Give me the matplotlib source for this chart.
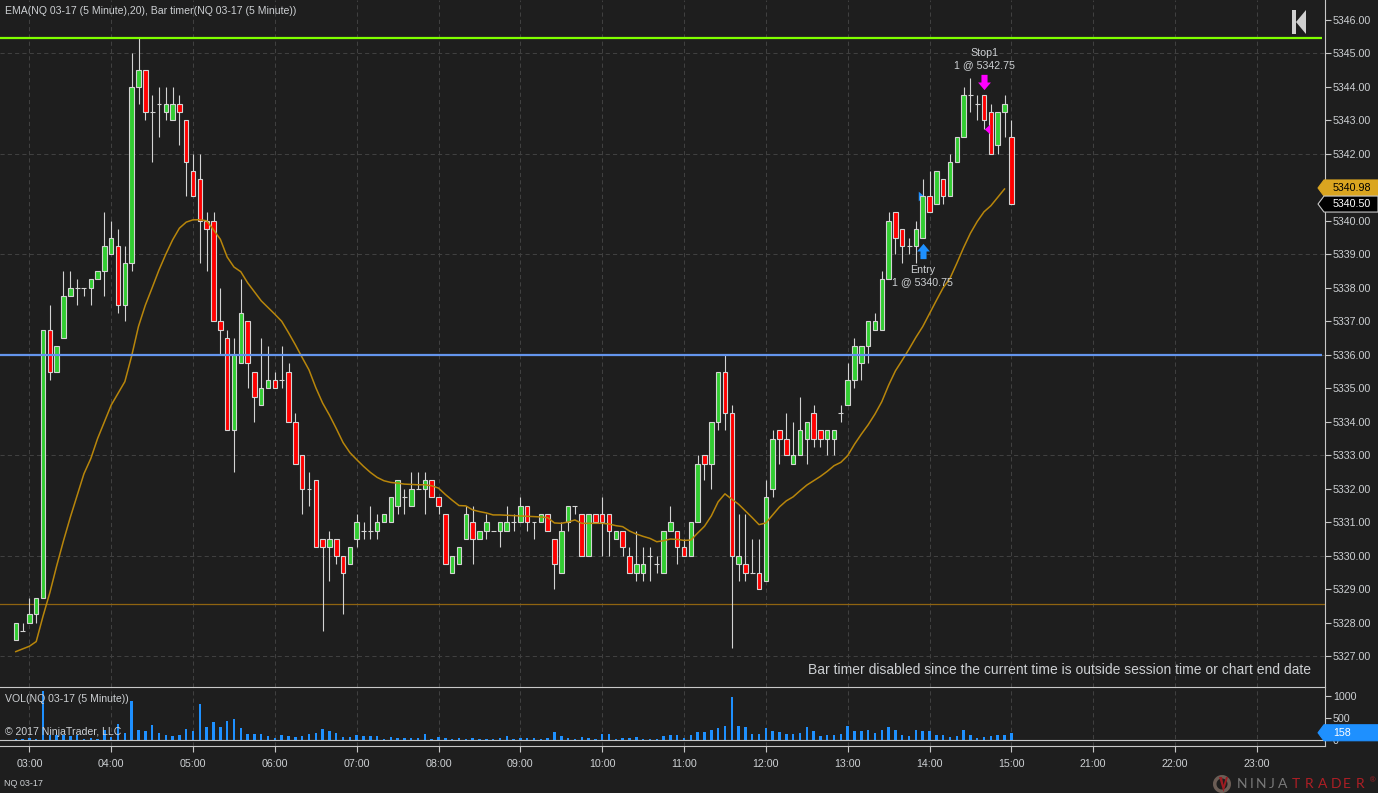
import numpy as np
import matplotlib
matplotlib.use("Agg")
import matplotlib.pyplot as plt
from matplotlib.patches import Circle, Polygon, Rectangle, Wedge
from matplotlib.path import Path
from matplotlib.transforms import Affine2D

W, H = 1378, 793

# first bar is two bars before 03:00
opens = [
    5327.5, 5327.75, 5328, 5328.25, 5328.75, 5336.75, 5335.5, 5336.5, 5337.75, 5338,
    5338, 5338, 5338.25, 5338.5, 5339, 5339.25, 5337.5, 5338.75, 5344, 5344.5,
    5343.25, 5343.5, 5343.25, 5343, 5343.5, 5343, 5341.5, 5341.25, 5340, 5340,
    5337, 5336.5, 5333.75, 5335.75, 5337, 5335.5, 5334.5, 5335, 5335.25, 5335.25,
    5335.5, 5334, 5333, 5332, 5332.25, 5330.5, 5330.25, 5330.5, 5330, 5329.75,
    5330.5, 5330.75, 5330.75, 5330.75, 5331, 5331, 5331.5, 5331.75, 5331.5, 5332,
    5332, 5332.25, 5331.75, 5331.25, 5329.5, 5329.75, 5330.5, 5331, 5330.5, 5330.75,
    5330.75, 5330.75, 5330.75, 5331, 5331, 5331.5, 5331, 5331, 5331.25, 5330.5,
    5329.5, 5331, 5331.5, 5331.25, 5330, 5331.25, 5331.25, 5331.25, 5330.5, 5330.75,
    5330, 5329.5, 5329.5, 5330, 5329.75, 5329.5, 5330.75, 5330.75, 5330.25, 5330,
    5331, 5333, 5332.75, 5334, 5335.5, 5334.25, 5329.75, 5329.75, 5329.5, 5329.5,
    5329.25, 5332, 5333.75, 5333.5, 5332.75, 5333, 5333.5, 5334.25, 5333.75, 5333.5,
    5333.5, 5334.25, 5334.5, 5335.25, 5335.75, 5336.25, 5336.75, 5336.75, 5338.25, 5340.25,
    5339.75, 5339.25, 5339.25, 5339.5, 5340.75, 5340.5, 5341.25, 5340.75, 5341.75, 5342.5,
    5343.75, 5343.5, 5343.75, 5343.25, 5342.25, 5343.25, 5342.5,
]
closes = [
    5328, 5327.75, 5328.25, 5328.75, 5336.75, 5335.5, 5336.25, 5337.75, 5338, 5338,
    5338, 5338.25, 5338.5, 5339.25, 5339.5, 5337.5, 5338.75, 5344, 5344.5, 5343.25,
    5343.25, 5343.5, 5343.5, 5343.5, 5343.25, 5341.75, 5340.75, 5340, 5339.75, 5337,
    5336.75, 5333.75, 5336, 5337.25, 5335.75, 5334.75, 5335, 5335.25, 5335, 5335.25,
    5334, 5332.75, 5332, 5332, 5330.25, 5330.25, 5330.5, 5330, 5329.5, 5330.25,
    5331, 5330.75, 5330.75, 5331, 5331.25, 5331.75, 5332.25, 5331.75, 5332, 5332,
    5332.25, 5331.75, 5331.5, 5329.75, 5330, 5330.25, 5331.25, 5330.5, 5330.75, 5331,
    5330.75, 5331, 5331, 5331, 5331.5, 5331, 5331, 5331.25, 5330.75, 5329.75,
    5330.75, 5331.5, 5331.5, 5330, 5331.25, 5331, 5331, 5330.75, 5330.75, 5330.25,
    5329.5, 5329.75, 5329.75, 5330, 5329.75, 5330.75, 5331, 5330.25, 5330, 5331,
    5332.75, 5332.75, 5334, 5335.5, 5334.25, 5330, 5330, 5329.5, 5329.5, 5329,
    5331.75, 5333.5, 5333.5, 5333, 5333, 5333.75, 5334, 5333.5, 5333.5, 5333.75,
    5333.75, 5334.25, 5335.25, 5336.25, 5336.25, 5337, 5337, 5338.25, 5340, 5339.5,
    5339.25, 5339.25, 5339.75, 5340.75, 5340.25, 5341.5, 5340.75, 5341.75, 5342.5, 5343.75,
    5343.75, 5343.5, 5343, 5342, 5343.25, 5343.5, 5340.5,
]
highs = [
    5328, 5328, 5328.75, 5328.75, 5336.75, 5337.5, 5336.25, 5338.5, 5338.5, 5338.25,
    5338, 5338.25, 5338.5, 5340.25, 5340, 5339.75, 5339.25, 5345, 5345.45, 5344.5,
    5343.75, 5344, 5344, 5344, 5343.75, 5343, 5342, 5342, 5340.25, 5340.25,
    5338, 5336.75, 5336.5, 5338.25, 5337, 5335.5, 5336.5, 5336.25, 5335.5, 5336.25,
    5335.75, 5334.25, 5333, 5332.5, 5332.25, 5330.5, 5330.75, 5330.5, 5330, 5330.25,
    5331.25, 5331, 5331.5, 5331.25, 5331.25, 5331.75, 5332.25, 5332, 5332.5, 5332.5,
    5332.5, 5332.25, 5331.75, 5331.25, 5330, 5330.25, 5331.5, 5331.5, 5330.75, 5331.25,
    5330.75, 5331, 5331.5, 5331.25, 5331.75, 5331.5, 5331, 5331.25, 5331.25, 5330.5,
    5331, 5331.5, 5331.5, 5331.25, 5331.25, 5331.25, 5331.75, 5331.25, 5330.75, 5330.75,
    5330.25, 5330.75, 5330.25, 5330.25, 5330, 5330.75, 5331.5, 5330.75, 5330.5, 5331,
    5333, 5333, 5334, 5335.5, 5336, 5334.5, 5331.25, 5331.25, 5330.5, 5330.5,
    5332.25, 5333.75, 5333.75, 5334.25, 5334, 5334.75, 5334, 5334.5, 5333.75, 5333.75,
    5333.75, 5334.5, 5335.75, 5336.5, 5336.25, 5337, 5337.25, 5338.5, 5340.25, 5340.25,
    5339.75, 5339.5, 5340, 5341.25, 5341.5, 5341.5, 5341.25, 5342, 5342.5, 5344,
    5344.25, 5343.75, 5343.75, 5343.5, 5343.25, 5343.75, 5343,
]
lows = [
    5327.5, 5327.75, 5328, 5328, 5328.75, 5335.25, 5335.5, 5336.5, 5337.75, 5337.5,
    5337.75, 5337.5, 5338.25, 5337.75, 5339, 5337.25, 5337, 5338.5, 5343.5, 5343,
    5341.75, 5342.5, 5343, 5343, 5342.25, 5340.75, 5340.75, 5338.75, 5338.5, 5337,
    5336, 5333.75, 5332.5, 5335.75, 5335, 5334, 5334.5, 5335, 5335, 5335,
    5334, 5332.75, 5331.25, 5331.5, 5330.25, 5327.75, 5329.25, 5329.75, 5328.25, 5329.75,
    5330.25, 5330.5, 5330.5, 5330.5, 5331, 5331, 5331.25, 5331.25, 5331.5, 5332,
    5331.25, 5331.75, 5331.25, 5329.75, 5329.5, 5329.75, 5330.5, 5329.75, 5330.5, 5330.5,
    5330.75, 5330.25, 5330.75, 5330.75, 5331, 5330.75, 5330.5, 5331, 5330.75, 5329,
    5329.5, 5330.75, 5331.25, 5330, 5330, 5331, 5330, 5330, 5330.5, 5330,
    5329.5, 5329.25, 5329.25, 5329.25, 5329.5, 5329.5, 5330.75, 5329.75, 5330, 5330,
    5331, 5332.25, 5332, 5333.75, 5333.75, 5327.25, 5329.25, 5329.25, 5329.5, 5329,
    5329.25, 5331.75, 5332.75, 5333, 5332.75, 5333, 5332.75, 5333.25, 5333.25, 5333,
    5333, 5334, 5334.5, 5335, 5335.25, 5335.75, 5336.75, 5336.75, 5338.25, 5339,
    5338.75, 5339, 5338.75, 5339.5, 5340.25, 5340.5, 5340.5, 5340.75, 5341.75, 5342.5,
    5343.25, 5343, 5342.75, 5342, 5342, 5342.5, 5340.5,
]
# EMA stops one bar before the last candle
ema = [
    5327.14, 5327.22, 5327.3, 5327.44, 5328.2, 5328.9, 5329.7, 5330.45, 5331.15, 5331.8,
    5332.45, 5332.9, 5333.5, 5334, 5334.5, 5334.85, 5335.2, 5335.97, 5336.85, 5337.48,
    5338, 5338.53, 5339, 5339.43, 5339.78, 5339.96, 5340.03, 5340.03, 5340, 5339.73,
    5339.45, 5338.92, 5338.62, 5338.48, 5338.15, 5337.88, 5337.61, 5337.41, 5337.21, 5337,
    5336.66, 5336.3, 5335.92, 5335.55, 5335.02, 5334.56, 5334.2, 5333.8, 5333.38, 5333.08,
    5332.87, 5332.67, 5332.49, 5332.34, 5332.24, 5332.19, 5332.17, 5332.14, 5332.13, 5332.12,
    5332.12, 5332.09, 5332.02, 5331.83, 5331.66, 5331.5, 5331.49, 5331.37, 5331.32, 5331.28,
    5331.22, 5331.22, 5331.21, 5331.2, 5331.19, 5331.18, 5331.17, 5331.16, 5331.14, 5330.98,
    5330.97, 5331.01, 5331.07, 5330.97, 5330.97, 5330.97, 5330.97, 5330.95, 5330.9, 5330.87,
    5330.74, 5330.65, 5330.58, 5330.52, 5330.42, 5330.45, 5330.5, 5330.49, 5330.46, 5330.47,
    5330.68, 5330.88, 5331.19, 5331.61, 5331.85, 5331.69, 5331.54, 5331.34, 5331.14, 5330.93,
    5330.98, 5331.22, 5331.46, 5331.64, 5331.76, 5331.94, 5332.11, 5332.24, 5332.37, 5332.52,
    5332.69, 5332.79, 5332.99, 5333.33, 5333.63, 5333.91, 5334.23, 5334.6, 5335.09, 5335.52,
    5335.84, 5336.17, 5336.52, 5336.84, 5337.23, 5337.62, 5338, 5338.28, 5338.73, 5339.2,
    5339.63, 5339.98, 5340.27, 5340.45, 5340.7, 5340.95,
]
volumes = [
    8, 8, 38, 8, 1107, 106, 106, 106, 83, 106,
    23, 38, 23, 220, 53, 349, 144, 879, 220, 197,
    334, 144, 98, 83, 106, 243, 197, 811, 288, 402,
    288, 424, 470, 265, 129, 129, 129, 83, 38, 106,
    83, 60, 83, 129, 144, 243, 197, 152, 60, 60,
    106, 83, 83, 83, 8, 53, 38, 30, 38, 38,
    129, 15, 60, 38, 8, 38, 15, 38, 15, 15,
    15, 38, 83, 15, 38, 30, 30, 15, 30, 174,
    83, 30, 15, 53, 30, 15, 129, 129, 15, 30,
    30, 53, 15, 15, 15, 83, 106, 106, 38, 106,
    174, 174, 220, 265, 311, 970, 311, 288, 129, 129,
    265, 197, 174, 129, 129, 152, 288, 197, 83, 106,
    106, 129, 311, 197, 197, 220, 152, 220, 288, 220,
    106, 83, 220, 197, 197, 106, 106, 60, 83, 220,
    106, 38, 60, 83, 106, 106, 158,
]
hour_labels = ["03:00", "04:00", "05:00", "06:00", "07:00", "08:00", "09:00", "10:00",
               "11:00", "12:00", "13:00", "14:00", "15:00", "21:00", "22:00", "23:00"]
price_ticks = list(range(5327, 5347))
grid_prices = [5327, 5330, 5333, 5336, 5339, 5342, 5345]
volume_ticks = [0, 500, 1000]
level_green = 5345.45
level_blue = 5336.0
level_brown = 5328.55
entry_price = 5340.75
stop_price = 5342.75
last_ema = 5340.98
last_close = 5340.5
last_volume = 158

BG = "#1e1e1e"
TEXT = "#cdd0d3"
AXIS = "#c8c8c8"
GRID = "#404040"
FONT = "Liberation Sans"
plt.rcParams["font.family"] = FONT


def main():
    fig = plt.figure(figsize=(W / 100, H / 100), dpi=100, facecolor=BG)
    # pixel space with y going down, for the bits that live outside the axes
    px = Affine2D().scale(1, -1).translate(0, H)

    right = 1324.5
    split = 687.0
    bottom = 746.0
    ax = fig.add_axes([0, (H - split) / H, right / W, split / H], facecolor=BG)
    vol = fig.add_axes([0, (H - bottom) / H, right / W, (bottom - split) / H], facecolor=BG)

    bar_px = 6.819
    x0 = 29.4
    xlim = (-x0 / bar_px, (right - x0) / bar_px)
    ax.set_xlim(*xlim)
    vol.set_xlim(*xlim)
    # 33.5 px per point, 5345 sits on y=53.3
    ax.set_ylim(5345 - (split - 53.3) / 33.5, 5345 + 53.3 / 33.5)
    # 44 px per 1000 contracts, zero on y=739.7
    vol.set_ylim(-(bottom - 739.7) / 0.044, (739.7 - split) / 0.044)

    x = np.arange(-2, 145)
    o = np.array(opens)
    c = np.array(closes)
    h = np.array(highs)
    l = np.array(lows)
    v = np.array(volumes)
    hour_x = [12 * i for i in range(13)] + [156, 168, 180]

    for a in (ax, vol):
        a.set_xticks(hour_x)
        a.grid(axis="x", color=GRID, lw=0.75, ls=(0, (4, 3)), zorder=0)
        a.set_axisbelow(True)
        for name in ("left", "top", "bottom"):
            a.spines[name].set_visible(False)
        a.spines["right"].set_color(AXIS)
        a.spines["right"].set_linewidth(0.8)
        a.yaxis.tick_right()

    ax.hlines(grid_prices, *xlim, color=GRID, lw=0.75, ls=(0, (4, 3)), zorder=0)
    ax.axhline(level_brown, color="#8f6410", lw=0.9, zorder=1)

    # candles
    ax.vlines(x, l, h, color="#d3d3d3", lw=0.8, zorder=3)
    up = c > o
    down = c < o
    flat = c == o
    ax.bar(x[up], (c - o)[up], bottom=o[up], width=0.66, color="#32cd32",
           edgecolor="#d3d3d3", lw=0.8, zorder=4)
    ax.bar(x[down], (o - c)[down], bottom=c[down], width=0.66, color="#ff0000",
           edgecolor="#d3d3d3", lw=0.8, zorder=4)
    ax.hlines(o[flat], x[flat] - 0.36, x[flat] + 0.36, color="#d3d3d3", lw=0.8, zorder=4)

    ax.plot(x[:len(ema)], ema, color="#b8860b", lw=1.1, zorder=5)
    line_end = (1322 - x0) / bar_px
    ax.plot([xlim[0], line_end], [level_green] * 2, color="#7fff00", lw=1.6, zorder=6, solid_capstyle="butt")
    ax.plot([xlim[0], line_end], [level_blue] * 2, color="#6495ed", lw=1.6, zorder=6, solid_capstyle="butt")

    # executions
    arrow = Path([(-0.2, -0.5), (0.2, -0.5), (0.2, 0.0), (0.42, 0.0), (0, 0.5),
                  (-0.42, 0.0), (-0.2, 0.0), (-0.2, -0.5)])
    arrow_down = arrow.transformed(Affine2D().scale(1, -1))
    tri_right = Path([(-0.28, -0.5), (0.28, 0), (-0.28, 0.5), (-0.28, -0.5)])
    tri_left = Path([(0.28, -0.5), (-0.28, 0), (0.28, 0.5), (0.28, -0.5)])
    ax.plot([131], [5339.11], marker=arrow, ms=11, color="#1e90ff", mew=0, zorder=7)
    ax.plot([140], [5344.14], marker=arrow_down, ms=11, color="#ff00ff", mew=0, zorder=7)
    ax.plot([130.8], [entry_price], marker=tri_right, ms=7, color="#1e90ff", mew=0, zorder=3.5)
    ax.plot([140.5], [stop_price], marker=tri_left, ms=7, color="#ff00ff", mew=0, zorder=7)
    note = dict(ha="center", va="center", color=TEXT, fontsize=7.65, zorder=8)
    ax.text(131, 5338.54, "Entry", **note)
    ax.text(131, 5338.17, f"1 @ {entry_price:.2f}", **note)
    ax.text(140.1, 5345.02, "Stop1", **note)
    ax.text(140.1, 5344.66, f"1 @ {stop_price:.2f}", **note)

    ax.text(5 / right, 1 - 11 / split, "EMA(NQ 03-17 (5 Minute),20), Bar timer(NQ 03-17 (5 Minute))",
            transform=ax.transAxes, ha="left", va="center", color=TEXT, fontsize=7.6)
    ax.text(1311.5 / right, 1 - 670.5 / split, "Bar timer disabled since the current time is outside session time or chart end date",
            transform=ax.transAxes, ha="right", va="center", color=TEXT, fontsize=10.0)

    ax.set_xticklabels([])
    ax.tick_params(axis="x", length=0)
    ax.set_yticks(price_ticks)
    ax.set_yticklabels([f"{p:.2f}" for p in price_ticks])
    ax.tick_params(axis="y", length=4, width=0.8, color=AXIS, labelcolor=TEXT, labelsize=7.7, pad=2)

    # volume panel
    vol.bar(x, v, width=0.36, color="#1e90ff", zorder=2)
    vol.axhline(0, color=AXIS, lw=0.8, zorder=3)
    vol.spines["top"].set_visible(True)
    vol.spines["bottom"].set_visible(True)
    vol.spines["top"].set_color(AXIS)
    vol.spines["bottom"].set_color(AXIS)
    vol.set_yticks(volume_ticks)
    vol.set_yticklabels([str(t) for t in volume_ticks])
    vol.set_xticklabels(hour_labels)
    vol.tick_params(axis="y", length=4, width=0.8, color=AXIS, labelcolor=TEXT, labelsize=7.7, pad=2)
    vol.tick_params(axis="x", length=4, width=0.8, color=AXIS, labelcolor=TEXT, labelsize=7.7, pad=5.5)

    fig.text(5, 699, "VOL(NQ 03-17 (5 Minute))", transform=px, va="center", color=TEXT, fontsize=7.6, zorder=10)
    fig.text(5, 732, "\u00a9 2017 NinjaTrader, LLC", transform=px, va="center", color=TEXT, fontsize=7.6, zorder=10)
    fig.text(4, 783.5, "NQ 03-17", transform=px, va="center", color=TEXT, fontsize=6.5, zorder=10)

    # price flags on the right axis
    def flag(a, value, text, face, edge, tcolor, halfh):
        y = H - a.transData.transform((0, value))[1]
        fig.add_artist(Polygon([(1318, y), (1324, y - halfh), (1378, y - halfh), (1378, y + halfh),
                                (1324, y + halfh)], closed=True, transform=px, facecolor=face,
                               edgecolor=edge, lw=0.8, zorder=8))
        fig.text(1333, y, text, transform=px, va="center", color=tcolor, fontsize=7.7, zorder=9)

    flag(ax, last_ema, f"{last_ema:.2f}", "#daa520", "#daa520", "#000000", 8)
    flag(ax, last_close, f"{last_close:.2f}", "#000000", AXIS, "#ffffff", 8)
    flag(vol, last_volume, str(last_volume), "#1e90ff", "#1e90ff", "#ffffff", 8)

    # "jump to end" icon
    fig.add_artist(Rectangle((1292, 10), 4, 24, transform=px, facecolor="#d0d0d0", edgecolor="none"))
    fig.add_artist(Polygon([(1296, 22), (1306, 10), (1306, 34)], closed=True, transform=px,
                           facecolor="#d0d0d0", edgecolor="none"))

    # logo
    fig.add_artist(Wedge((1222, 784), 9, 0, 360, width=3.5, transform=px, facecolor="#6b5d55", edgecolor="none"))
    fig.add_artist(Polygon([(1219, 777), (1222, 777), (1223.5, 785), (1226, 777), (1228, 777), (1223.5, 792)],
                           closed=True, transform=px, facecolor="#9c1c22", edgecolor="none"))
    for i, ch in enumerate("NINJA"):
        fig.text(1237 + [0, 13, 19, 32, 41][i], 784.5, ch, transform=px, va="center", color="#7a7a7a",
                 fontsize=10, family="Lato")
    for i, ch in enumerate("TRADER"):
        fig.text(1292 + 12.8 * i, 784.5, ch, transform=px, va="center", color="#ae1e25",
                 fontsize=10, family="Lato")
    fig.text(1369.5, 781, "\u00ae", transform=px, va="center", color="#ae1e25", fontsize=5.5)

    fig.savefig("out.png", dpi=100, facecolor=BG)


if __name__ == "__main__":
    main()
